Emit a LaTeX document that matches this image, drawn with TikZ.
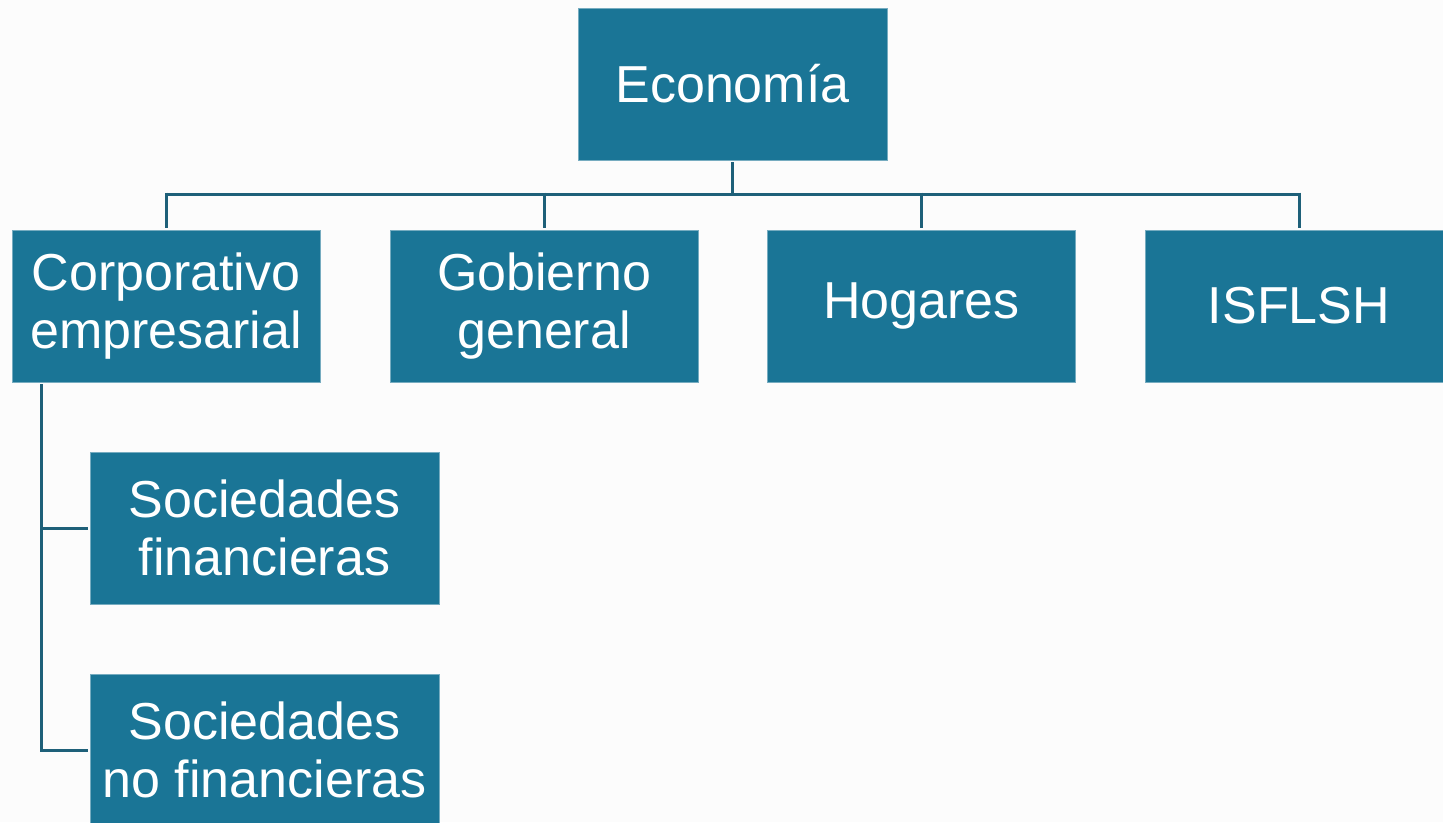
\documentclass[tikz,border=0pt]{standalone}
\usepackage{fontspec}
\setmainfont{Liberation Sans}
\definecolor{boxfill}{HTML}{1A7596}
\definecolor{linecol}{HTML}{1E6079}
\definecolor{bg}{HTML}{FCFCFC}
\begin{document}
\begin{tikzpicture}[x=1pt,y=-1pt,
  orgbox/.style={rectangle, fill=boxfill, draw=boxfill!60!white, line width=0.8pt,
    text=white, minimum width=308pt, minimum height=152pt, inner sep=0pt,
    align=center, font=\fontsize{52}{58}\selectfont},
  wide/.style={minimum width=349pt},
  conn/.style={draw=linecol, line width=3pt}]
\useasboundingbox (0,0) rectangle (1443,822);
\fill[bg] (0,0) rectangle (1443,822);
\clip (0,0) rectangle (1443,822);
\node[orgbox, minimum width=309pt] (eco) at (732.5,84) {Economía};
\node[orgbox] (corp) at (166,306) {Corporativo\\empresarial};
\node[orgbox] (gob) at (544,306) {Gobierno\\general};
\node[orgbox] (hog) at (921.5,306) {Hogares};
\node[orgbox] (isf) at (1299,306) {ISFLSH};
\node[orgbox, wide] (sf) at (264.5,528) {Sociedades\\financieras};
\node[orgbox, wide] (snf) at (264.5,750) {Sociedades\\no financieras};
\coordinate (bus) at (0,194);
\coordinate (spine) at (41,0);
\draw[conn] ([yshift=-2pt]eco.south) -- (eco.south |- bus);
\draw[conn] (corp.north |- bus) -- (isf.north |- bus);
\foreach \n in {corp,gob,hog,isf}{
  \draw[conn] ([yshift=1.5pt]\n.north |- bus) -- ([yshift=2pt]\n.north);
}
\draw[conn] ([yshift=-2pt]corp.south -| spine) |- ([xshift=-2pt]snf.west);
\draw[conn] (spine |- sf.west) -- ([xshift=-2pt]sf.west);
\end{tikzpicture}
\end{document}
